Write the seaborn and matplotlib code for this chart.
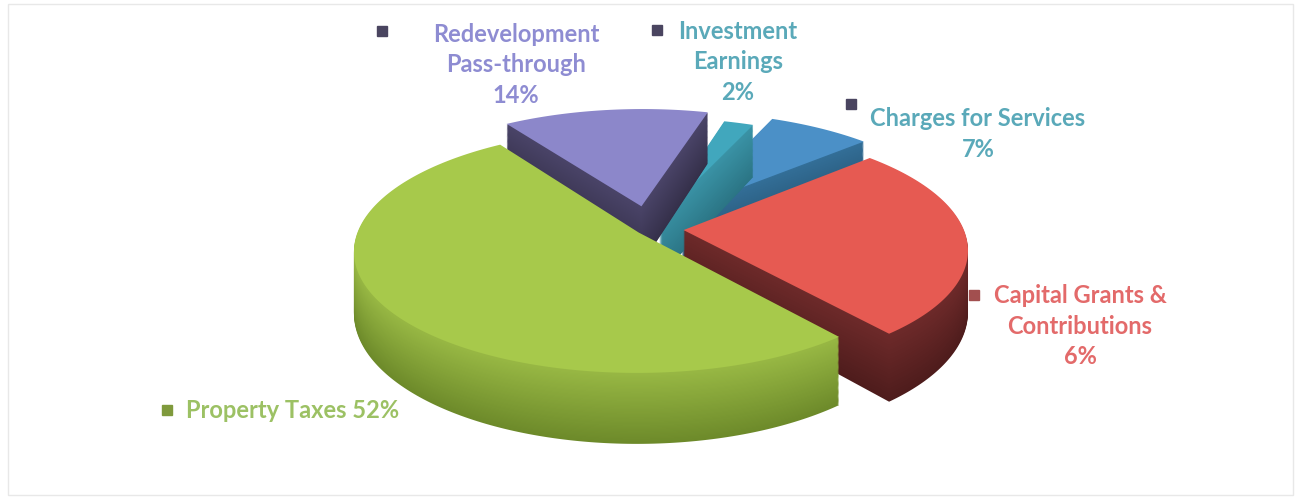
import matplotlib
matplotlib.use("Agg")
import numpy as np
import matplotlib.pyplot as plt
import seaborn as sns
from matplotlib.colors import to_rgb
from matplotlib.patches import Rectangle, Polygon

# data
categories = ["Redevelopment Pass-through", "Investment Earnings", "Charges for Services",
              "Capital Grants & Contributions", "Property Taxes"]
slice_values = [14, 2, 7, 26, 52]          # red slice sized as drawn in the picture
pct_labels = ["14%", "2%", "7%", "6%", "52%"]  # labels as printed
label_lines = [["Redevelopment", "Pass-through", "14%"],
               ["Investment", "Earnings", "2%"],
               ["Charges for Services", "7%"],
               ["Capital Grants &", "Contributions", "6%"],
               ["Property Taxes 52%"]]

# styles
top_colors = ["#8c87ca", "#41a7bd", "#4b90c7", "#e65a52", "#a7c94b"]
side_light = ["#4a4468", "#3a93a6", "#336f98", "#6e2a2a", "#98b844"]
side_dark = ["#35304a", "#2b7585", "#24506e", "#4e1c1c", "#6d8a2a"]
text_colors = ["#8e8cd2", "#5aa9b9", "#5aa9b9", "#e36a6a", "#9cc164"]
key_colors = ["#4a4560", "#4a4560", "#4a4560", "#a24f4f", "#7f9a3c"]
explode = [0.2, 0.1, 0.2, 0.12, 0.05]
draw_rank = [2, 1, 0, 3, 4]  # painter's order

W, H = 1299, 501
R = 280           # radius in px
K = 0.422         # vertical squash
P = 0.15          # perspective strength
cx, cy = 650, 229
thick = 60
n_layers = 60

sns.set_theme(style="white")
plt.rcParams["font.family"] = ["Lato", "DejaVu Sans"]

fig = plt.figure(figsize=(W / 100, H / 100), dpi=100)
ax = fig.add_axes([0, 0, 1, 1])

# flat unit pie from matplotlib, then projected to a tilted view
wedges, _ = ax.pie(slice_values, explode=explode, startangle=124, counterclock=False,
                   radius=1, center=(0, 0))
shapes = []
for w in wedges:
    th = np.radians(np.linspace(w.theta1, w.theta2, 200))
    x0, y0 = w.center
    arc = np.column_stack([x0 + w.r * np.cos(th), y0 + w.r * np.sin(th)])
    shapes.append(np.vstack([[x0, y0], arc]))
    w.remove()


def project(pts, drop):
    u, v = pts[:, 0], pts[:, 1]
    s = 1 / (1 + P * v)
    return np.column_stack([cx + R * u * s, cy - R * K * v * s + drop * s])


for k in range(n_layers, -1, -1):
    t = k / n_layers
    for i, pts in enumerate(shapes):
        if k == 0:
            col = top_colors[i]
        else:
            col = tuple((1 - t) * np.array(to_rgb(side_light[i])) + t * np.array(to_rgb(side_dark[i])))
        ax.add_patch(Polygon(project(pts, k * thick / n_layers), closed=True, facecolor=col,
                             edgecolor="none", zorder=10 + draw_rank[i] * 200 + (n_layers - k)))

ax.set_aspect("auto")
ax.set_xlim(0, W)
ax.set_ylim(H, 0)
ax.set_axis_off()

# labels with legend keys (pixel positions)
label_pos = [(516, 65), (738, 62), (978, 134), (1080, 326), (293, 411)]
key_pos = [(382, 31), (657, 30), (851, 104), (974, 295), (167, 410)]
for lines, (x, y), (kx, ky), tc, kc in zip(label_lines, label_pos, key_pos, text_colors, key_colors):
    fig.text(x / W, 1 - y / H, "\n".join(lines), ha="center", va="center",
             fontsize=17, fontweight="bold", color=tc, linespacing=1.4)
    fig.patches.append(Rectangle(((kx - 5) / W, 1 - (ky + 5) / H), 10 / W, 10 / H,
                                 transform=fig.transFigure, color=kc, figure=fig))

fig.patches.append(Rectangle((8 / W, 6 / H), (W - 14) / W, (H - 10) / H, fill=False,
                             edgecolor="#e8e8e8", linewidth=1, transform=fig.transFigure,
                             figure=fig))

fig.savefig("out.png", dpi=100, facecolor="white")
